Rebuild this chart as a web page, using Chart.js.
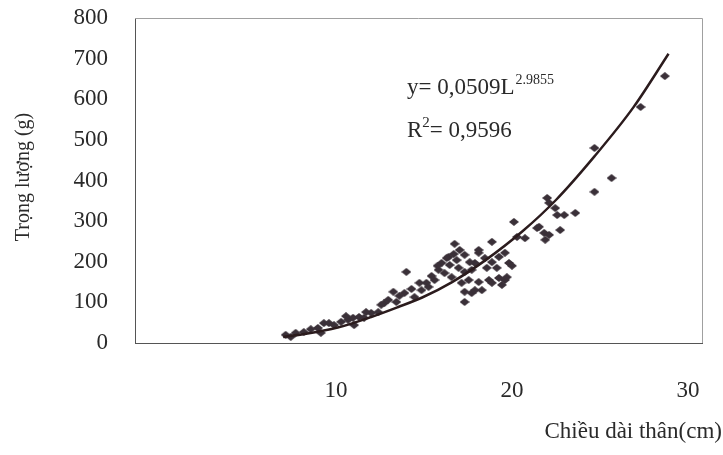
<!DOCTYPE html>
<html>
<head>
<meta charset="utf-8">
<script src="https://cdn.jsdelivr.net/npm/chart.js@4.4.1/dist/chart.umd.min.js"></script>
<style>
  html, body { margin: 0; padding: 0; background: #fff; }
  #wrap { width: 723px; height: 455px; }
</style>
</head>
<body>
<div id="wrap"><canvas id="chart"></canvas></div>
<script>
// body length (cm) and weight (g) of each fish
const lengths = [
   7.14, 7.43, 7.71, 8.17, 8.57, 8.97, 9.14, 9.31, 9.6, 9.89,
   10.29, 10.69, 10.97, 11.03, 11.31, 11.6, 12.0, 12.4, 12.74, 12.97,
   13.26, 13.43, 13.89, 14.0, 14.46, 14.86, 15.14, 15.26, 15.6, 15.83,
   16.0, 16.17, 16.4, 16.46, 16.57, 16.74, 16.86, 16.97, 17.14, 17.31,
   17.31, 17.31, 17.31, 17.54, 17.71, 17.71, 17.89, 17.89, 18.11, 18.11,
   18.11, 18.29, 18.46, 18.69, 18.86, 18.86, 18.86, 19.26, 19.26, 19.6,
   19.6, 19.71, 19.83, 20.0, 20.11, 20.29, 20.74, 21.43, 21.54, 21.83,
   21.89, 22.11, 22.0, 22.11, 22.46, 22.57, 22.74, 22.97, 23.6, 24.69,
   25.66, 24.69, 27.31, 28.69,
   10.57, 11.71, 12.57, 13.6, 14.29, 14.74, 15.43, 15.77, 16.29, 16.69,
   17.03, 17.6, 18.57, 19.14, 19.43,
];
const weights = [
   20, 15, 25, 27, 34, 37, 25, 49, 49, 44,
   52, 57, 62, 44, 64, 62, 74, 76, 98, 106,
   126, 101, 123, 175, 113, 130, 148, 138, 155, 180,
   197, 172, 212, 192, 162, 244, 204, 185, 148, 175,
   217, 126, 101, 155, 123, 180, 197, 130, 222, 229,
   150, 130, 209, 155, 249, 199, 148, 212, 160, 155,
   222, 162, 197, 190, 298, 261, 258, 283, 286, 271,
   254, 266, 357, 345, 332, 315, 278, 315, 320, 372,
   406, 480, 581, 657,
   66, 76, 94, 116, 133, 148, 165, 190, 209, 219,
   229, 199, 185, 185, 143,
];

// fitted power curve
const fitLengths = [7.0, 8.2, 10.1, 12.0, 13.5, 14.9, 16.6, 18.5, 20.6, 22.5, 24.7, 26.9, 28.9];
const fitWeights = [15, 22, 38, 64, 88, 112, 150, 204, 275, 352, 460, 580, 712];

const xTicks = [10, 20, 30];
const yTicks = [0, 100, 200, 300, 400, 500, 600, 700, 800];

const equationBase = "y= 0,0509L";
const equationPower = "2.9855";
const rSquared = "= 0,9596";
const xTitle = "Chiều dài thân(cm)";
const yTitle = "Trọng lượng (g)";

const serif = '"Liberation Serif", "Times New Roman", serif';
const textColor = "#2a2a2a";

// diamond marker, a bit wider than tall like the scan
const makeDiamond = (w, h, color) => {
   const c = document.createElement("canvas");
   c.width = w;
   c.height = h;
   const ctx = c.getContext("2d");
   ctx.fillStyle = color;
   ctx.beginPath();
   ctx.moveTo(w / 2, 0);
   ctx.lineTo(w, h / 2);
   ctx.lineTo(w / 2, h);
   ctx.lineTo(0, h / 2);
   ctx.closePath();
   ctx.fill();
   return c;
};

const diamond = makeDiamond(10, 8, "#3a3038");

// no extra room for the end tick labels
const noPadding = (s) => {
   s.paddingTop = 0;
   s.paddingBottom = 0;
   s.paddingLeft = 0;
   s.paddingRight = 0;
};

const labelsPlugin = {
   id: "labels",
   afterDraw(chart) {
      const { ctx, chartArea } = chart;
      ctx.save();

      // top and right frame
      ctx.strokeStyle = "#a0a0a0";
      ctx.lineWidth = 1;
      ctx.beginPath();
      ctx.moveTo(chartArea.left, chartArea.top + 0.5);
      ctx.lineTo(chartArea.right + 0.5, chartArea.top + 0.5);
      ctx.lineTo(chartArea.right + 0.5, chartArea.bottom);
      ctx.stroke();

      ctx.fillStyle = textColor;
      ctx.textBaseline = "alphabetic";

      // equation
      ctx.font = "23px " + serif;
      ctx.textAlign = "left";
      ctx.fillText(equationBase, 407, 94);
      let w = ctx.measureText(equationBase).width;
      ctx.font = "14px " + serif;
      ctx.fillText(equationPower, 407 + w + 1, 84);

      ctx.font = "23px " + serif;
      ctx.fillText("R", 407, 137);
      w = ctx.measureText("R").width;
      ctx.font = "15px " + serif;
      ctx.fillText("2", 407 + w, 127);
      const w2 = ctx.measureText("2").width;
      ctx.font = "23px " + serif;
      ctx.fillText(rSquared, 407 + w + w2, 137);

      // x title
      ctx.textAlign = "right";
      ctx.fillText(xTitle, 722, 438);

      // y title
      ctx.font = "20px " + serif;
      ctx.textAlign = "center";
      ctx.textBaseline = "middle";
      ctx.translate(24, 177);
      ctx.rotate(-Math.PI / 2);
      ctx.fillText(yTitle, 0, 0);

      ctx.restore();
   },
};

const data = {
   datasets: [
      {
         type: "line",
         data: fitLengths.map((x, i) => ({ x, y: fitWeights[i] })),
         borderColor: "#2b1b1d",
         borderWidth: 2.5,
         pointRadius: 0,
         cubicInterpolationMode: "monotone",
         order: 0,
      },
      {
         type: "scatter",
         data: lengths.map((x, i) => ({ x, y: weights[i] })),
         pointStyle: diamond,
         order: 1,
      },
   ],
};

const config = {
   type: "scatter",
   data: data,
   options: {
      responsive: true,
      maintainAspectRatio: false,
      animation: false,
      layout: { padding: { top: 18, right: 21, left: 0, bottom: 0 } },
      plugins: {
         legend: { display: false },
         tooltip: { enabled: false },
      },
      scales: {
         x: {
            type: "linear",
            min: -1.42,
            max: 30.8,
            afterBuildTicks: (s) => {
               s.ticks = xTicks.map((v) => ({ value: v }));
            },
            afterFit: (s) => {
               s.height = 112;
               noPadding(s);
            },
            grid: { display: false, drawTicks: false },
            border: { color: "#555" },
            ticks: {
               padding: 34,
               color: textColor,
               font: { family: serif, size: 23 },
            },
         },
         y: {
            min: 0,
            max: 800,
            afterBuildTicks: (s) => {
               s.ticks = yTicks.map((v) => ({ value: v }));
            },
            afterFit: (s) => {
               s.width = 135;
               noPadding(s);
            },
            grid: { display: false, drawTicks: false },
            border: { color: "#555" },
            ticks: {
               padding: 27,
               color: textColor,
               font: { family: serif, size: 23 },
            },
         },
      },
   },
   plugins: [labelsPlugin],
};

const myChart = new Chart(document.getElementById("chart"), config);
</script>
</body>
</html>
